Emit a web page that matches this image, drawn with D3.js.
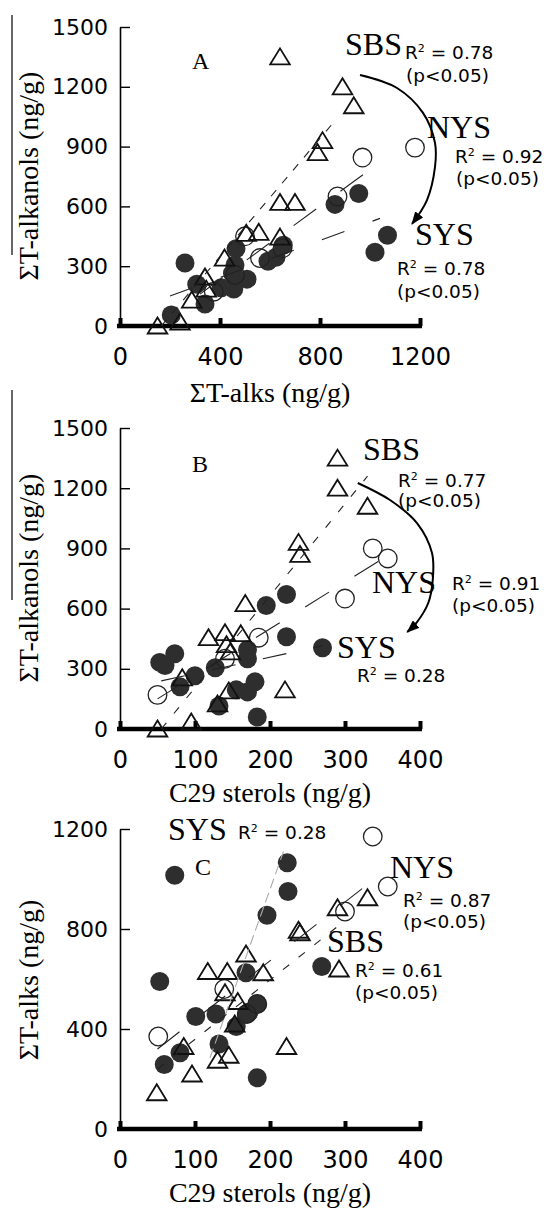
<!DOCTYPE html>
<html>
<head>
<meta charset="utf-8">
<script src="https://cdn.jsdelivr.net/npm/d3@7/dist/d3.min.js"></script>
<style>
  body { margin: 0; background: #fff; }
  svg { display: block; }
</style>
</head>
<body>
<div id="chart"></div>
<script>
// ---- values ----
const aXTicks = [0, 400, 800, 1200];
const aYTicks = [0, 300, 600, 900, 1200, 1500];
const bXTicks = [0, 100, 200, 300, 400];
const bYTicks = [0, 300, 600, 900, 1200, 1500];
const cXTicks = [0, 100, 200, 300, 400];
const cYTicks = [0, 400, 800, 1200];

// panel A: x = ΣT-alks, y = ΣT-alkanols
const aSBS = [[640,1350],[890,1200],[935,1105],[810,930],[790,870],[640,620],[700,620],
  [505,465],[555,470],[640,446],[418,341],[340,246],[345,185],[287,130],[240,20],[150,0]];
const aNYS = [[1180,895],[970,845],[870,650],[500,450],[650,390],[560,341],[460,256],[375,172]];
const aSYS = [[955,665],[860,610],[1070,455],[1020,370],[653,405],[624,345],[592,325],[464,388],
  [260,316],[460,306],[450,265],[508,235],[455,185],[405,192],[307,210],[340,110],[205,55]];
const aFitSBS = [[165,0],[860,1030]];
const aFitNYS = [[320,160],[1055,835]];
const aFitSYS = [[200,150],[1040,540]];

// panel B: x = C29 sterols, y = ΣT-alkanols
const bSBS = [[290,1350],[290,1200],[330,1110],[238,930],[240,870],[167,625],[118,455],[140,480],
  [161,475],[142,420],[147,384],[83,255],[145,190],[130,125],[95,35],[50,0],[220,195]];
const bNYS = [[337,900],[357,850],[300,650],[185,455],[140,350],[50,170]];
const bSYS = [[222,670],[195,615],[222,460],[270,405],[170,395],[170,350],[127,305],[73,375],
  [53,332],[60,316],[100,265],[80,210],[180,235],[155,195],[170,185],[132,115],[183,60]];
const bFitSBS = [[55,0],[330,1260]];
const bFitNYS = [[50,150],[355,860]];
const bFitSYS = [[55,240],[270,415]];

// panel C: x = C29 sterols, y = ΣT-alks
const cSBS = [[330,925],[290,885],[238,795],[240,785],[168,700],[117,630],[143,630],[191,625],
  [140,545],[157,510],[153,420],[85,330],[145,295],[130,275],[96,220],[49,145],[222,330],[292,640]];
const cNYS = [[337,1170],[357,970],[300,870],[139,560],[51,370],[183,500],[169,460]];
const cSYS = [[73,1015],[196,855],[223,1065],[224,950],[168,625],[53,590],[269,650],[183,500],
  [169,460],[172,468],[128,460],[101,450],[155,410],[132,340],[80,305],[59,258],[183,205]];
const cFitSYS = [[120,285],[218,1110]];
const cFitNYS = [[50,320],[335,990]];
const cFitSBS = [[50,240],[290,810]];

// curved arrows (data units of the panel)
const aArrow = [[960,1259],[1108,1194],[1212,1069],[1260,918],[1260,798],[1228,632],[1168,512]];
const bArrow = [[317,1226],[360,1141],[396,1026],[416,877],[417,742],[411,628],[396,533],[383,483]];

const W = 547, H = 1208;
const serif = "'Liberation Serif', 'Times New Roman', serif";
const sans = "'DejaVu Sans', sans-serif";

const svg = d3.select('#chart').append('svg')
  .attr('width', W).attr('height', H).attr('viewBox', [0, 0, W, H]);

svg.append('defs').append('marker')
  .attr('id', 'ah').attr('viewBox', '0 0 13 10')
  .attr('refX', 12).attr('refY', 5)
  .attr('markerWidth', 13).attr('markerHeight', 10)
  .attr('markerUnits', 'userSpaceOnUse').attr('orient', 'auto')
  .append('path').attr('d', 'M0,0L13,5L0,10Z').attr('fill', '#000');

function panel(p) {
  const x = d3.scaleLinear().domain([0, p.xMax]).range([120, 420]);
  const y = d3.scaleLinear().domain([0, p.yMax]).range([p.bottom, p.top]);
  const g = svg.append('g');
  const fmt = d3.format('d');

  // y axis, ticks pointing inward
  const ya = g.append('g').attr('transform', 'translate(120,0)')
    .call(d3.axisLeft(y).tickValues(p.yt).tickFormat(fmt)
      .tickSizeInner(-10).tickSizeOuter(0).tickPadding(12));
  ya.select('.domain').attr('stroke-width', 1.6);
  ya.selectAll('.tick line').attr('stroke-width', 1.4);
  ya.selectAll('text').attr('font-family', sans).attr('font-size', 22).attr('fill', '#000');

  // x axis, heavy line, ticks pointing up
  const xa = g.append('g').attr('transform', `translate(0,${p.bottom})`)
    .call(d3.axisBottom(x).tickValues(p.xt).tickFormat(fmt)
      .tickSizeInner(-8).tickSizeOuter(0).tickPadding(22));
  xa.select('.domain').attr('stroke-width', 4.5).attr('d', 'M117,0H422');
  xa.selectAll('.tick line').attr('stroke-width', 4);
  xa.selectAll('text').attr('font-family', sans).attr('font-size', 24).attr('fill', '#000');

  // axis titles
  g.append('text').attr('x', 270).attr('y', p.bottom + p.xTitleDy)
    .attr('text-anchor', 'middle').attr('font-family', serif).attr('font-size', 28)
    .text(p.xTitle);
  g.append('text').attr('transform', `translate(38,${p.yTitleY}) rotate(-90)`)
    .attr('text-anchor', 'middle').attr('font-family', serif).attr('font-size', 28)
    .text(p.yTitle);

  // markers
  g.append('g').selectAll('circle').data(p.sys).join('circle')
    .attr('cx', d => x(d[0])).attr('cy', d => y(d[1])).attr('r', 9.5)
    .attr('fill', '#2e2e2e');
  g.append('g').selectAll('circle').data(p.nys).join('circle')
    .attr('cx', d => x(d[0])).attr('cy', d => y(d[1])).attr('r', 9.3)
    .attr('fill', 'none').attr('stroke', '#222').attr('stroke-width', 1.3);
  g.append('g').selectAll('path').data(p.sbs).join('path')
    .attr('d', d => {
      const cx = x(d[0]), cy = y(d[1]);
      return `M${cx},${cy - 8.5}L${cx + 9.8},${cy + 7.5}L${cx - 9.8},${cy + 7.5}Z`;
    })
    .attr('fill', 'none').attr('stroke', '#111').attr('stroke-width', 1.8);

  // fitted lines
  const line = d3.line().x(d => x(d[0])).y(d => y(d[1]));
  p.fits.forEach(f => {
    g.append('path').attr('d', line(f.pts)).attr('fill', 'none')
      .attr('stroke', f.color || '#222').attr('stroke-width', 1.1)
      .attr('stroke-dasharray', f.dash);
  });

  if (p.arrow) {
    g.append('path')
      .attr('d', d3.line().x(d => x(d[0])).y(d => y(d[1])).curve(d3.curveCatmullRom)(p.arrow))
      .attr('fill', 'none').attr('stroke', '#000').attr('stroke-width', 2)
      .attr('marker-end', 'url(#ah)');
  }

  // annotations
  p.labels.forEach(l => {
    const t = g.append('text').attr('x', l[1]).attr('y', l[2]);
    if (l[0] === 'big') t.attr('font-family', serif).attr('font-size', 32).text(l[3]);
    else if (l[0] === 'id') t.attr('font-family', serif).attr('font-size', 24).text(l[3]);
    else if (l[0] === 'r2') {
      t.attr('font-family', sans).attr('font-size', 18.5);
      t.append('tspan').text('R');
      t.append('tspan').attr('font-size', 11).attr('dy', -7).text('2');
      t.append('tspan').attr('dy', 7).text(' = ' + l[3]);
    } else t.attr('font-family', sans).attr('font-size', 18.5).text(l[3]);
  });
}

panel({
  top: 27, bottom: 326, xMax: 1200, yMax: 1500, xt: aXTicks, yt: aYTicks,
  xTitle: 'ΣT-alks (ng/g)', xTitleDy: 76, yTitle: 'ΣT-alkanols (ng/g)', yTitleY: 176,
  sbs: aSBS, nys: aNYS, sys: aSYS, arrow: aArrow,
  fits: [{pts: aFitSBS, dash: '8,9'}, {pts: aFitNYS, dash: '28,30'}, {pts: aFitSYS, dash: '24,30'}],
  labels: [['id', 192, 69, 'A'], ['big', 345, 55, 'SBS'], ['r2', 405, 59, '0.78'], ['p', 406, 82, '(p<0.05)'],
    ['big', 427, 138, 'NYS'], ['r2', 455, 163, '0.92'], ['p', 456, 185, '(p<0.05)'],
    ['big', 415, 245, 'SYS'], ['r2', 397, 275, '0.78'], ['p', 397, 298, '(p<0.05)']]
});

panel({
  top: 428, bottom: 729, xMax: 400, yMax: 1500, xt: bXTicks, yt: bYTicks,
  xTitle: 'C29 sterols (ng/g)', xTitleDy: 73, yTitle: 'ΣT-alkanols (ng/g)', yTitleY: 578,
  sbs: bSBS, nys: bNYS, sys: bSYS, arrow: bArrow,
  fits: [{pts: bFitSBS, dash: '8,12'}, {pts: bFitNYS, dash: '28,30'}, {pts: bFitSYS, dash: '24,28'}],
  labels: [['id', 192, 472, 'B'], ['big', 363, 460, 'SBS'], ['r2', 398, 487, '0.77'], ['p', 398, 507, '(p<0.05)'],
    ['big', 372, 593, 'NYS'], ['r2', 452, 590, '0.91'], ['p', 452, 612, '(p<0.05)'],
    ['big', 337, 658, 'SYS'], ['r2', 357, 682, '0.28']]
});

panel({
  top: 829, bottom: 1129, xMax: 400, yMax: 1200, xt: cXTicks, yt: cYTicks,
  xTitle: 'C29 sterols (ng/g)', xTitleDy: 73, yTitle: 'ΣT-alks (ng/g)', yTitleY: 980,
  sbs: cSBS, nys: cNYS, sys: cSYS,
  fits: [{pts: cFitSYS, dash: '10,5', color: '#aaa'}, {pts: cFitNYS, dash: '28,30'}, {pts: cFitSBS, dash: '8,12'}],
  labels: [['big', 168, 840, 'SYS'], ['r2', 238, 839, '0.28'], ['id', 195, 875, 'C'],
    ['big', 390, 878, 'NYS'], ['r2', 403, 907, '0.87'], ['p', 403, 928, '(p<0.05)'],
    ['big', 327, 952, 'SBS'], ['r2', 355, 977, '0.61'], ['p', 355, 999, '(p<0.05)']]
});

// thin rule at the far left of panels A and B
svg.append('line').attr('x1', 12).attr('x2', 12).attr('y1', 15).attr('y2', 255)
  .attr('stroke', '#000').attr('stroke-width', 1.2);
svg.append('line').attr('x1', 12).attr('x2', 12).attr('y1', 390).attr('y2', 600)
  .attr('stroke', '#000').attr('stroke-width', 1.2);
</script>
</body>
</html>
